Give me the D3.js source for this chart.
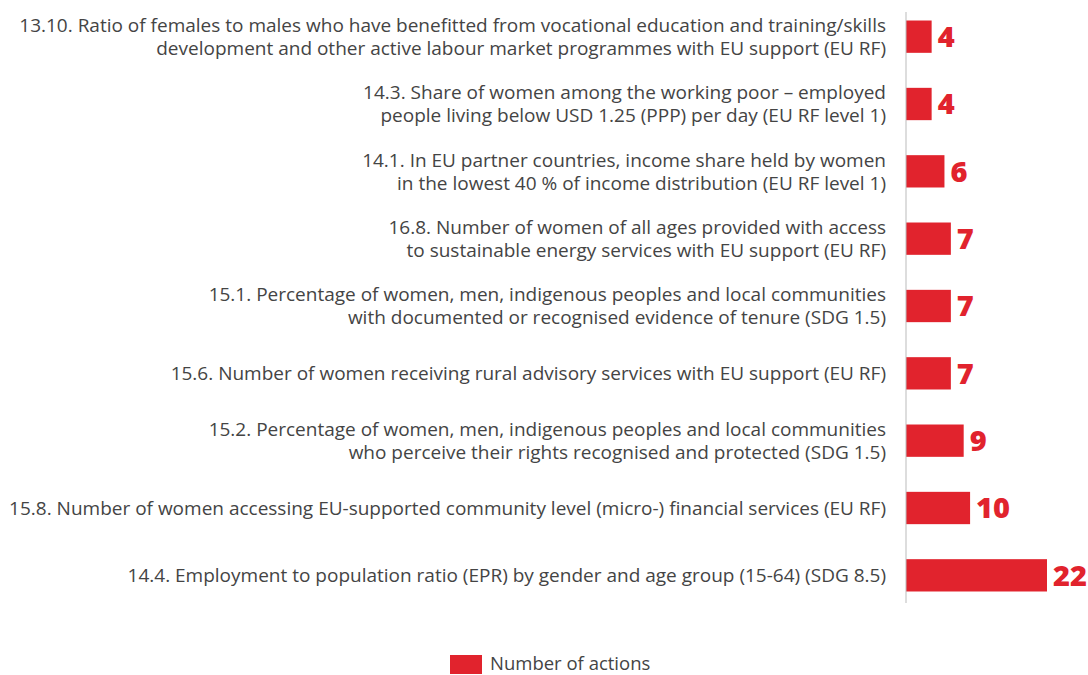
<!DOCTYPE html>
<html>
<head>
<meta charset="utf-8">
<script src="https://cdn.jsdelivr.net/npm/d3@7/dist/d3.min.js"></script>
<style>
  html, body { margin: 0; padding: 0; background: #fff; }
  svg { display: block; }
</style>
</head>
<body>
<svg id="chart" width="1088" height="675"></svg>
<script>
// Indicator labels (each entry holds the wrapped lines), top to bottom
const indicators = [
  ["13.10. Ratio of females to males who have benefitted from vocational education and training/skills",
   "development and other active labour market programmes with EU support (EU RF)"],
  ["14.3. Share of women among the working poor \u2013 employed",
   "people living below USD 1.25 (PPP) per day (EU RF level 1)"],
  ["14.1. In EU partner countries, income share held by women",
   "in the lowest 40 % of income distribution (EU RF level 1)"],
  ["16.8. Number of women of all ages provided with access",
   "to sustainable energy services with EU support (EU RF)"],
  ["15.1. Percentage of women, men, indigenous peoples and local communities",
   "with documented or recognised evidence of tenure (SDG 1.5)"],
  ["15.6. Number of women receiving rural advisory services with EU support (EU RF)"],
  ["15.2. Percentage of women, men, indigenous peoples and local communities",
   "who perceive their rights recognised and protected (SDG 1.5)"],
  ["15.8. Number of women accessing EU-supported community level (micro-) financial services (EU RF)"],
  ["14.4. Employment to population ratio (EPR) by gender and age group (15-64) (SDG 8.5)"]
];
const actions = [4, 4, 6, 7, 7, 7, 9, 10, 22];
const seriesName = "Number of actions";

const RED = "#e1232d";
const TEXT = "#444444";
const FONT = "'Open Sans', 'Noto Sans', sans-serif";

const svg = d3.select("#chart");
const axisX = 906;

const x = d3.scaleLinear().domain([0, 22]).range([axisX, axisX + 141]);
const y = d3.scaleBand()
  .domain(d3.range(actions.length))
  .range([3, 609])
  .paddingInner(0.52)
  .paddingOuter(0.26);

// bars
svg.append("g").selectAll("rect")
  .data(actions)
  .join("rect")
  .attr("x", x(0))
  .attr("y", (d, i) => y(i))
  .attr("width", d => x(d) - x(0))
  .attr("height", y.bandwidth())
  .attr("fill", RED);

// vertical baseline
svg.append("line")
  .attr("x1", axisX).attr("x2", axisX)
  .attr("y1", 12).attr("y2", 603)
  .attr("stroke", "#bbbbbb").attr("stroke-width", 1);

// value labels
svg.append("g").selectAll("text")
  .data(actions)
  .join("text")
  .attr("x", d => x(d) + 6)
  .attr("y", (d, i) => y(i) + y.bandwidth() / 2)
  .attr("dy", "0.36em")
  .attr("fill", RED)
  .attr("font-family", FONT)
  .attr("font-weight", 800)
  .attr("font-size", 29)
  .text(d => d);

// category labels, right-aligned next to the baseline
const lineH = 23;
const labels = svg.append("g").selectAll("text")
  .data(indicators)
  .join("text")
  .attr("text-anchor", "end")
  .attr("fill", TEXT)
  .attr("font-family", FONT)
  .attr("font-size", 19)
  .attr("y", (d, i) => y(i) + y.bandwidth() / 2 - (d.length - 1) * lineH / 2);
labels.selectAll("tspan")
  .data(d => d)
  .join("tspan")
  .attr("x", 886)
  .attr("dy", (d, j) => j === 0 ? "0.36em" : lineH)
  .text(d => d);

// legend
const legend = svg.append("g").attr("transform", "translate(450,655)");
legend.append("rect").attr("width", 32).attr("height", 19).attr("fill", RED);
legend.append("text")
  .attr("x", 40).attr("y", 15)
  .attr("fill", TEXT)
  .attr("font-family", FONT)
  .attr("font-size", 18.5)
  .text(seriesName);
</script>
</body>
</html>
